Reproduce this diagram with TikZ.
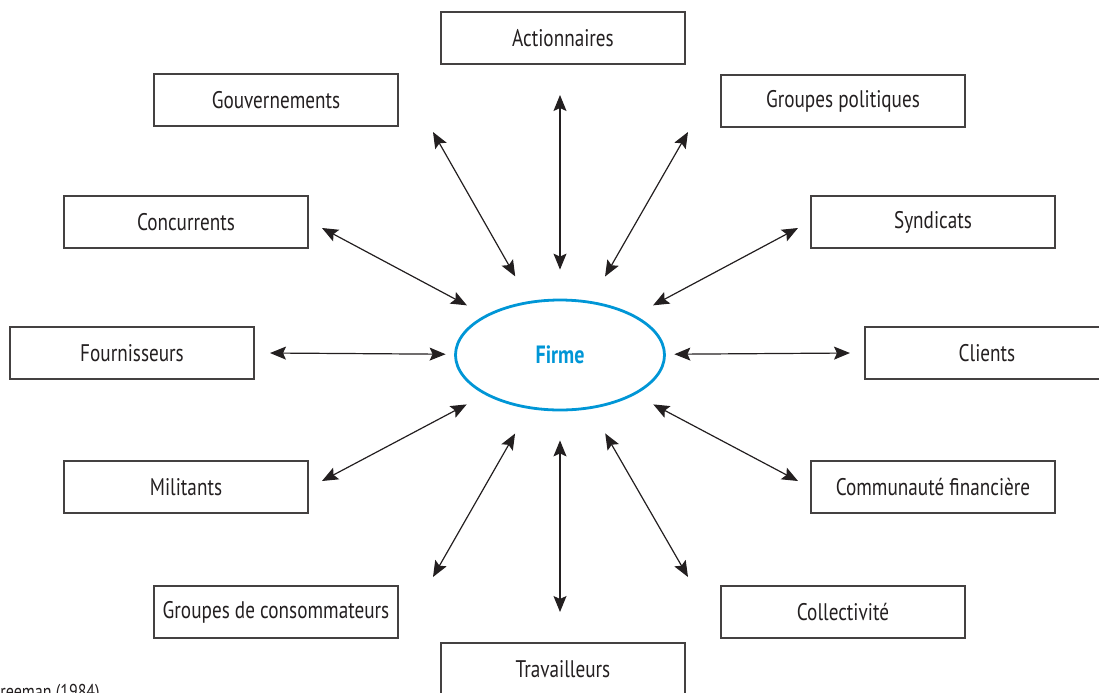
\documentclass[tikz,border=0pt]{standalone}
\usepackage{fontspec}
\setmainfont{PT Sans}[FakeStretch=0.8]
\usepackage{tikz}
\usetikzlibrary{arrows.meta}
\usetikzlibrary{shapes.geometric}
\definecolor{firmeblue}{RGB}{0,150,214}
\definecolor{inkgray}{RGB}{35,31,32}

\begin{document}
\begin{tikzpicture}[
x=0.5pt, y=-0.5pt,
partie/.style={rectangle, draw=inkgray!85, line width=0.65pt, minimum width=122pt, minimum height=26pt, inner sep=0pt, text=inkgray, font=\fontsize{12}{14}\selectfont},
firmenode/.style={ellipse, draw=firmeblue, line width=1.4pt, minimum width=104.5pt, minimum height=55pt, inner sep=0pt, text=firmeblue, font=\bfseries\fontsize{12.5}{14}\selectfont},
halo/.style={ellipse, minimum width=114pt, minimum height=85pt, inner sep=0pt},
link/.style={>={Stealth[length=8pt,width=6.5pt,inset=1.5pt]}, <->, line width=0.6pt, draw=inkgray}
]
\useasboundingbox (0,0) rectangle (1099,692);

%Nodes
\node[firmenode]    (firme)     at (560,355)    {Firme};
\node[halo]         (halo)      at (firme)      {};

\node[partie]       (act)       at (563,38)     {Actionnaires};
\node[partie]       (gouv)      at (276,100)    {Gouvernements};
\node[partie]       (gpol)      at (843,101)    {Groupes politiques};
\node[partie]       (conc)      at (186,222)    {Concurrents};
\node[partie]       (synd)      at (933,222)    {Syndicats};
\node[partie]       (four)      at (132,353)    {Fournisseurs};
\node[partie]       (cli)       at (987,353)    {Clients};
\node[partie]       (mil)       at (186,487)    {Militants};
\node[partie]       (comfin)    at (933,487)    {Communauté financière};
\node[partie]       (gcons)     at (276,612)    {Groupes de consommateurs};
\node[partie]       (coll)      at (843,612)    {Collectivité};
\node[partie]       (trav)      at (563,669)    {Travailleurs};

% source, cut by the page edge
\node[anchor=north west, inner sep=0pt, text=inkgray, font=\fontsize{10}{12}\selectfont] (source) at (0,684) {reeman (1984)};

%Arrow ends on the box side
\coordinate (e-act)    at (560,95);
\coordinate (e-gouv)   at (433,132);
\coordinate (e-gpol)   at (688,132);
\coordinate (e-conc)   at (322,228);
\coordinate (e-synd)   at (798,228);
\coordinate (e-four)   at (270,353);
\coordinate (e-cli)    at (850,353);
\coordinate (e-mil)    at (322,481);
\coordinate (e-comfin) at (798,481);
\coordinate (e-gcons)  at (433,577);
\coordinate (e-coll)   at (688,577);
\coordinate (e-trav)   at (560,612);

%Lines
\foreach \e in {act,gouv,gpol,conc,synd,four,cli,mil,comfin,gcons,coll,trav}
  \draw[link] (e-\e) -- (halo);

\end{tikzpicture}
\end{document}
